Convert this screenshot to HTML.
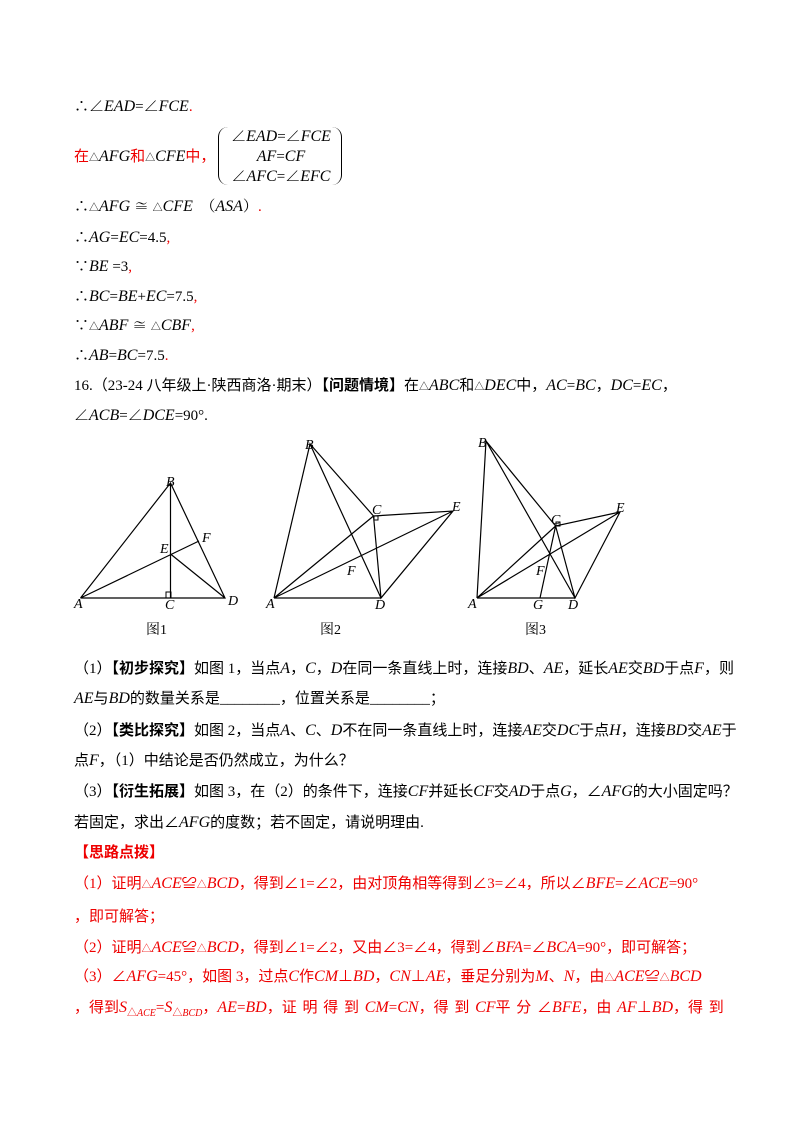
<!DOCTYPE html>
<html><head><meta charset="utf-8"><style>
body{margin:0;background:#fff;}
.pg{position:relative;width:800px;height:1132px;overflow:hidden;font-family:"Liberation Serif","Noto Serif CJK SC",serif;font-size:15px;color:#000;}
.l{position:absolute;left:74px;white-space:nowrap;line-height:20px;}
i{font-style:italic;font-family:"Liberation Serif",serif;font-size:16px;}
.r{color:#e00;}
.cn{font-family:"Liberation Serif","Noto Sans CJK SC",sans-serif;}
.t{font-size:10px;}
</style></head><body><div class="pg">
<div class="l" style="top:97px">∴∠<i>EAD</i>=∠<i>FCE</i><span class="r">.</span></div>
<div class="l r cn" style="top:147px">在<span style="color:#000"><span class="t">△</span><i>AFG</i></span>和<span style="color:#000"><span class="t">△</span><i>CFE</i></span>中，</div>
<div style="position:absolute;left:218px;top:127px;width:122px;height:58px;border-left:1.5px solid #000;border-right:1.5px solid #000;border-radius:10px;"></div>
<div class="l" style="left:224px;top:127px;line-height:19px;text-align:center;width:114px">∠<i>EAD</i>=∠<i>FCE</i><br><i>AF</i>=<i>CF</i><br>∠<i>AFC</i>=∠<i>EFC</i></div>
<div class="l" style="top:197px">∴<span class="t">△</span><i>AFG</i> ≅ <span class="t">△</span><i>CFE</i> &nbsp;（<i>ASA</i>）<span class="r">.</span></div>
<div class="l" style="top:228px">∴<i>AG</i>=<i>EC</i>=4.5<span class="r">,</span></div>
<div class="l" style="top:257px">∵<i>BE</i> =3<span class="r">,</span></div>
<div class="l" style="top:287px">∴<i>BC</i>=<i>BE</i>+<i>EC</i>=7.5<span class="r">,</span></div>
<div class="l" style="top:316px">∵<span class="t">△</span><i>ABF</i> ≅ <span class="t">△</span><i>CBF</i><span class="r">,</span></div>
<div class="l" style="top:346px">∴<i>AB</i>=<i>BC</i>=7.5<span class="r">.</span></div>
<div class="l cn" style="top:376px">16.（23-24 八年级上·陕西商洛·期末）<b>【问题情境】</b>在<span class="t">△</span><i>ABC</i>和<span class="t">△</span><i>DEC</i>中，<i>AC</i>=<i>BC</i>，<i>DC</i>=<i>EC</i>，</div>
<div class="l" style="top:406px">∠<i>ACB</i>=∠<i>DCE</i>=90°.</div>
<svg style="position:absolute;left:0;top:0" width="800" height="660" stroke="#000" stroke-width="1.2" fill="none">
<path d="M80.5 598L225 598L170.5 483L80.5 598M170.5 483L170.5 598M80.5 598L199 541M170.5 554L225 598"/>
<rect x="166" y="592" width="5" height="6" stroke-width="1"/>
<path d="M274 598L310 444L381 598M310 444L373.5 516L453 511L381 598L373.5 516M274 598L373.5 516M274 598L453 511M274 598L381 598"/>
<rect x="374" y="516" width="4" height="4" stroke-width="1"/>
<path d="M477 598L486 441L575 598M486 441L555.6 526L620 512L575 598L555.6 526M477 598L555.6 526M477 598L620 512M477 598L575 598M540 598L555.6 526"/>
<rect x="556" y="522" width="4" height="4" stroke-width="1"/>
<g font-family="Liberation Serif" font-style="italic" font-size="14" fill="#000" stroke="none">
<text x="166" y="486">B</text><text x="74" y="608">A</text><text x="165" y="609">C</text><text x="228" y="605">D</text><text x="160" y="553">E</text><text x="202" y="542">F</text>
<text x="305" y="449">B</text><text x="266" y="608">A</text><text x="372" y="514">C</text><text x="452" y="511">E</text><text x="375" y="609">D</text><text x="347" y="575">F</text>
<text x="478" y="447">B</text><text x="468" y="608">A</text><text x="551" y="524">C</text><text x="616" y="512">E</text><text x="568" y="609">D</text><text x="533" y="609">G</text><text x="536" y="575">F</text>
</g>
<g font-family="Liberation Serif,Noto Serif CJK SC,serif" font-size="14" fill="#000" stroke="none">
<text x="146" y="634">图1</text><text x="320" y="634">图2</text><text x="525" y="634">图3</text></g>
</svg>
<div class="l cn" style="top:659px">（1）<b>【初步探究】</b>如图 1，当点<i>A</i>，<i>C</i>，<i>D</i>在同一条直线上时，连接<i>BD</i>、<i>AE</i>，延长<i>AE</i>交<i>BD</i>于点<i>F</i>，则</div>
<div class="l cn" style="top:689px"><i>AE</i>与<i>BD</i>的数量关系是________，位置关系是________；</div>
<div class="l cn" style="top:721px">（2）<b>【类比探究】</b>如图 2，当点<i>A</i>、<i>C</i>、<i>D</i>不在同一条直线上时，连接<i>AE</i>交<i>DC</i>于点<i>H</i>，连接<i>BD</i>交<i>AE</i>于</div>
<div class="l cn" style="top:751px">点<i>F</i>，（1）中结论是否仍然成立，为什么？</div>
<div class="l cn" style="top:782px">（3）<b>【衍生拓展】</b>如图 3，在（2）的条件下，连接<i>CF</i>并延长<i>CF</i>交<i>AD</i>于点<i>G</i>，∠<i>AFG</i>的大小固定吗？</div>
<div class="l cn" style="top:813px">若固定，求出∠<i>AFG</i>的度数；若不固定，请说明理由.</div>
<div class="l cn r" style="top:843px"><b>【思路点拨】</b></div>
<div class="l cn r" style="top:874px">（1）证明<span class="t">△</span><i>ACE</i>≌<span class="t">△</span><i>BCD</i>，得到∠1=∠2，由对顶角相等得到∠3=∠4，所以∠<i>BFE</i>=∠<i>ACE</i>=90°</div>
<div class="l cn r" style="top:907px">，即可解答；</div>
<div class="l cn r" style="top:938px">（2）证明<span class="t">△</span><i>ACE</i>≌<span class="t">△</span><i>BCD</i>，得到∠1=∠2，又由∠3=∠4，得到∠<i>BFA</i>=∠<i>BCA</i>=90°，即可解答；</div>
<div class="l cn r" style="top:967px">（3）∠<i>AFG</i>=45°，如图 3，过点<i>C</i>作<i>CM</i>⊥<i>BD</i>，<i>CN</i>⊥<i>AE</i>，垂足分别为<i>M</i>、<i>N</i>，由<span class="t">△</span><i>ACE</i>≌<span class="t">△</span><i>BCD</i></div>
<div class="l cn r" style="top:998px;word-spacing:2px">，得到<i>S</i><sub class="t">△<i style="font-size:10px">ACE</i></sub>=<i>S</i><sub class="t">△<i style="font-size:10px">BCD</i></sub>，<i>AE</i>=<i>BD</i>，证 明 得 到 <i>CM</i>=<i>CN</i>，得 到 <i>CF</i>平 分 ∠<i>BFE</i>，由 <i>AF</i>⊥<i>BD</i>，得 到</div>
</div></body></html>
